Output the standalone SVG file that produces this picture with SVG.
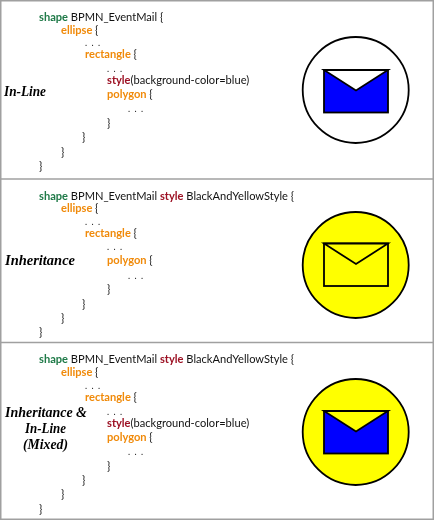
<svg xmlns="http://www.w3.org/2000/svg" width="434" height="520" viewBox="0 0 434 520">
<defs><filter id="soft" filterUnits="userSpaceOnUse" x="0" y="0" width="434" height="520" color-interpolation-filters="sRGB"><feGaussianBlur stdDeviation="0.25"/></filter></defs>
<style>
text{font-family:"Lato","Liberation Sans",sans-serif;font-size:11.1px;fill:#111}
.c{filter:url(#soft)}
.k{fill:#1f7a48;font-weight:700}
.o{fill:#f08a0a;font-weight:700}
.r{fill:#9c1023;font-weight:700}
.b{fill:#111;font-weight:400}
.d{font-size:9px;letter-spacing:1.05px}
.l{font-family:"Liberation Serif",serif;font-size:14px;font-weight:700;font-style:italic;fill:#000}
.f{fill:none;stroke:#a0a0a0;stroke-width:1.5}
.s{stroke:#000;stroke-width:1.8}
</style>
<g id="frame">
<rect class="f" x="0.75" y="0.75" width="432.5" height="518.5"/>
<line class="f" x1="0" y1="179" x2="434" y2="179"/>
<line class="f" x1="0" y1="342.5" x2="434" y2="342.5"/>
</g>
<g id="code-inline" class="c">
<text x="39" y="21"><tspan class="k">shape</tspan> BPMN_EventMail {</text>
<text class="o" x="61" y="33.5">ellipse <tspan class="b">{</tspan></text>
<text class="d" x="85" y="46">. . .</text>
<text class="o" x="85" y="58">rectangle <tspan class="b">{</tspan></text>
<text class="d" x="107" y="72">. . .</text>
<text x="107" y="84"><tspan class="r">style</tspan>(background-color=blue)</text>
<text class="o" x="107" y="98">polygon <tspan class="b">{</tspan></text>
<text class="d" x="128" y="112">. . .</text>
<text x="107" y="126.5">}</text>
<text x="82" y="141">}</text>
<text x="61" y="155.5">}</text>
<text x="39" y="170">}</text>
<text class="l" x="4" y="96" textLength="42" lengthAdjust="spacingAndGlyphs">In-Line</text>
</g>
<g id="code-inheritance" class="c">
<text x="39" y="199.5"><tspan class="k">shape</tspan> BPMN_EventMail <tspan class="r">style</tspan> BlackAndYellowStyle {</text>
<text class="o" x="61" y="212">ellipse <tspan class="b">{</tspan></text>
<text class="d" x="85" y="225">. . .</text>
<text class="o" x="85" y="237">rectangle <tspan class="b">{</tspan></text>
<text class="d" x="107" y="250">. . .</text>
<text class="o" x="107" y="264">polygon <tspan class="b">{</tspan></text>
<text class="d" x="128" y="279">. . .</text>
<text x="107" y="293">}</text>
<text x="82" y="307.5">}</text>
<text x="61" y="322">}</text>
<text x="39" y="336">}</text>
<text class="l" x="5" y="265" textLength="70" lengthAdjust="spacingAndGlyphs">Inheritance</text>
</g>
<g id="code-mixed" class="c">
<text x="39" y="363"><tspan class="k">shape</tspan> BPMN_EventMail <tspan class="r">style</tspan> BlackAndYellowStyle {</text>
<text class="o" x="61" y="376">ellipse <tspan class="b">{</tspan></text>
<text class="d" x="85" y="389">. . .</text>
<text class="o" x="85" y="401">rectangle <tspan class="b">{</tspan></text>
<text class="d" x="107" y="414.5">. . .</text>
<text x="107" y="426.5"><tspan class="r">style</tspan>(background-color=blue)</text>
<text class="o" x="107" y="440.5">polygon <tspan class="b">{</tspan></text>
<text class="d" x="128" y="455">. . .</text>
<text x="107" y="469.5">}</text>
<text x="82" y="484">}</text>
<text x="61" y="498">}</text>
<text x="39" y="513">}</text>
<text class="l" x="5" y="417" textLength="82" lengthAdjust="spacingAndGlyphs">Inheritance &amp;</text>
<text class="l" x="25" y="433" textLength="41" lengthAdjust="spacingAndGlyphs">In-Line</text>
<text class="l" x="23" y="449" textLength="45" lengthAdjust="spacingAndGlyphs">(Mixed)</text>
</g>
<g id="icon-inline">
<circle class="s" cx="355.7" cy="90" r="53" fill="#fff"/>
<rect class="s" x="324" y="70" width="64" height="42.5" fill="#0000ff"/>
<polygon class="s" points="324,70 388,70 356,90.5" fill="#fff"/>
</g>
<g id="icon-inheritance">
<circle class="s" cx="355.7" cy="265" r="53" fill="#ffff00"/>
<rect class="s" x="324" y="243.5" width="64" height="42.5" fill="#ffff00"/>
<polygon class="s" points="324,243.5 388,243.5 356,264" fill="#ffff00"/>
</g>
<g id="icon-mixed">
<circle class="s" cx="355.7" cy="432" r="53" fill="#ffff00"/>
<rect class="s" x="324" y="411" width="64" height="42.5" fill="#0000ff"/>
<polygon class="s" points="324,411 388,411 356,431.5" fill="#ffff00"/>
</g>
</svg>
